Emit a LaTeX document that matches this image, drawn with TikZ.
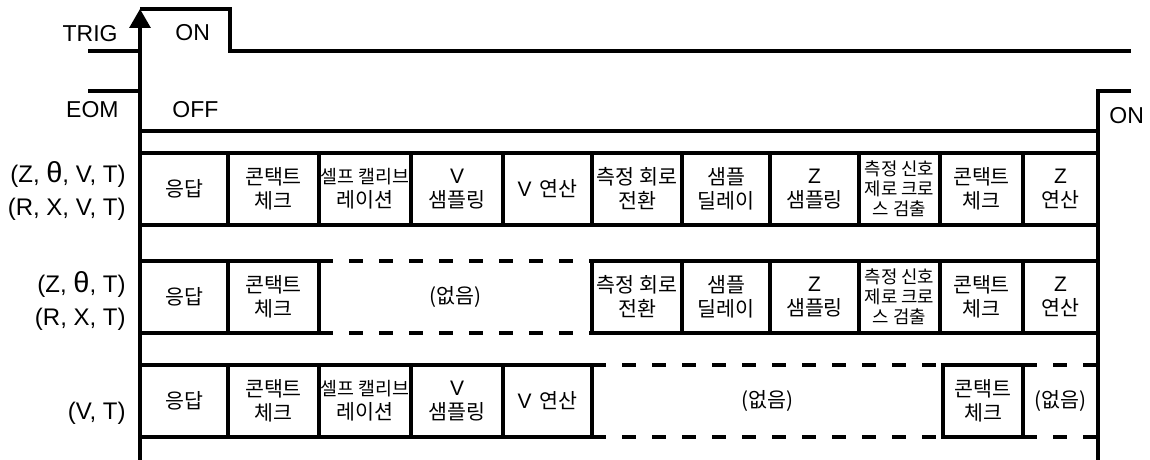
\documentclass[tikz,border=0pt]{standalone}
\usepackage{fontspec}
\setmainfont{Liberation Sans}
\newfontfamily\kr{Noto Sans CJK KR}
\newcommand\thet{{\fontsize{14.5}{16}\selectfont θ}}
\newcommand\lat[1]{{\rmfamily\fontsize{10.5}{12}\selectfont #1}}
\newcommand\selfcal{\makebox[46pt]{\fontsize{9.2}{12}\selectfont 셀프 캘리브}}
\usetikzlibrary{arrows.meta,positioning}

\tikzset{
  sig/.style={line width=1.6pt},
  sigtxt/.style={font=\fontsize{11.5}{14}\selectfont, inner sep=0pt},
  lbl/.style={font=\fontsize{12}{16.4}\selectfont, inner sep=0pt, align=right, anchor=east},
  cell/.style={draw, line width=1.6pt, minimum width=#1*0.5pt, minimum height=36pt,
    inner sep=0pt, outer sep=0pt, align=center, font=\kr\fontsize{10.3}{12}\selectfont},
  idle/.style={minimum width=#1*0.5pt, minimum height=36pt, inner sep=0pt, outer sep=0pt,
    font=\kr\fontsize{10.3}{12}\selectfont},
  gapline/.style={line width=1.6pt, dash pattern=on 7pt off 8pt},
  tight/.style={font=\kr\fontsize{8.9}{10}\selectfont},
}

\begin{document}
\begin{tikzpicture}[x=0.5pt,y=-0.5pt,>=Stealth]
\useasboundingbox (0,0) rectangle (1150,460);

% TRIG and EOM
\node[sigtxt, anchor=east] (trig) at (118,34) {TRIG};
\node[sigtxt, anchor=west] (trigon) at (175,33) {ON};
\node[sigtxt, anchor=east] (eom) at (119,110) {EOM};
\node[sigtxt, anchor=west] (eomoff) at (172,110) {OFF};
\node[sigtxt, anchor=west] (eomon) at (1109,116) {ON};
\draw[sig, -{Triangle[length=9.5pt,width=10.5pt]}] (140,460) -- (140,9);
\draw[sig] (88,51) -- (140,51);
\draw[sig] (140,9) -- (230,9) -- (230,51) -- (1131,51);
\draw[sig] (88,91) -- (140,91);
\draw[sig] (140,131) -- (1098,131);
\draw[sig] (1098,460) -- (1098,91) -- (1131,91);

% row labels
\node[lbl] (l1) at (126,191) {(Z, \thet, V, T)\\(R, X, V, T)};
\node[lbl] (l2) at (126,301) {(Z, \thet, T)\\(R, X, T)};
\node[lbl] (l3) at (126,413) {(V, T)};

% row 1
\node[cell=88, anchor=north west] (a1) at (140,153) {응답};
\node[cell=91, right=0pt of a1] (a2) {콘택트\\체크};
\node[cell=92, right=0pt of a2] (a3) {\selfcal\\레이션};
\node[cell=92, right=0pt of a3] (a4) {\lat{V}\\샘플링};
\node[cell=89, right=0pt of a4] (a5) {\lat{V}\, 연산};
\node[cell=90, right=0pt of a5] (a6) {측정 회로\\전환};
\node[cell=88, right=0pt of a6] (a7) {샘플\\딜레이};
\node[cell=89, right=0pt of a7] (a8) {\lat{Z}\\샘플링};
\node[cell=81, tight, right=0pt of a8] (a9) {측정 신호\\제로 크로\\스 검출};
\node[cell=83, right=0pt of a9] (a10) {콘택트\\체크};
\node[cell=75, right=0pt of a10] (a11) {\lat{Z}\\연산};

% row 2
\node[cell=88, anchor=north west] (b1) at (140,261) {응답};
\node[cell=91, right=0pt of b1] (b2) {콘택트\\체크};
\node[idle=273, right=0pt of b2] (b3) {(없음)};
\node[cell=90, right=0pt of b3] (b4) {측정 회로\\전환};
\node[cell=88, right=0pt of b4] (b5) {샘플\\딜레이};
\node[cell=89, right=0pt of b5] (b6) {\lat{Z}\\샘플링};
\node[cell=81, tight, right=0pt of b6] (b7) {측정 신호\\제로 크로\\스 검출};
\node[cell=83, right=0pt of b7] (b8) {콘택트\\체크};
\node[cell=75, right=0pt of b8] (b9) {\lat{Z}\\연산};
\draw[gapline] (b3.north west) -- (b3.north east) (b3.south west) -- (b3.south east);

% row 3
\node[cell=88, anchor=north west] (c1) at (140,365) {응답};
\node[cell=91, right=0pt of c1] (c2) {콘택트\\체크};
\node[cell=92, right=0pt of c2] (c3) {\selfcal\\레이션};
\node[cell=92, right=0pt of c3] (c4) {\lat{V}\\샘플링};
\node[cell=89, right=0pt of c4] (c5) {\lat{V}\, 연산};
\node[idle=351, right=0pt of c5] (c6) {(없음)};
\node[cell=80, right=0pt of c6] (c7) {콘택트\\체크};
\node[idle=75, right=0pt of c7] (c8) {(없음)};
\draw[gapline] (c6.north west) -- (c6.north east) (c6.south west) -- (c6.south east);
\draw[gapline] (c8.north west) -- (c8.north east) (c8.south west) -- (c8.south east);
\end{tikzpicture}
\end{document}
